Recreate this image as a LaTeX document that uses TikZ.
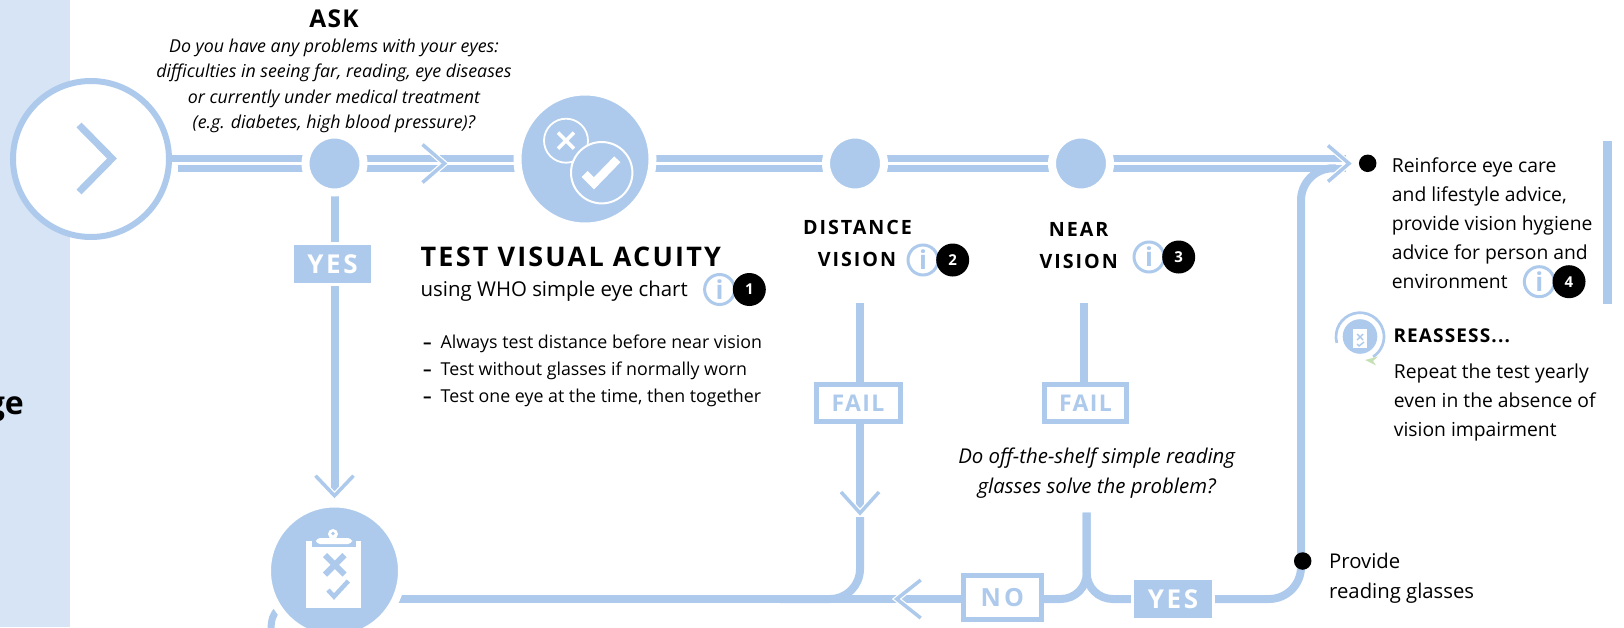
\documentclass[tikz,border=0pt]{standalone}
\usepackage{fontspec}
\setmainfont{Open Sans}
\usetikzlibrary{positioning,calc,backgrounds}
\definecolor{flowblue}{HTML}{ADCAEC}
\definecolor{bandblue}{HTML}{D6E4F5}
\definecolor{tipgreen}{HTML}{C5E0B4}
\tikzset{
    flowline/.style={draw=flowblue, line width=8pt},
    twinline/.style={draw=flowblue, line width=6.5pt, double=white, double distance=3.5pt},
    chevron/.style={draw=flowblue, line width=3.5pt, preaction={draw=white, line width=6pt}},
    bigdot/.style={circle, fill=flowblue, draw=white, line width=8pt, minimum size=58pt, inner sep=0pt, outer sep=0pt},
    bigicon/.style={circle, fill=flowblue, draw=white, line width=8pt, minimum size=135pt, inner sep=0pt, outer sep=0pt},
    solidbox/.style={rectangle, fill=flowblue, draw=white, line width=3pt, inner sep=0pt, text=white, font=\fontsize{26}{26}\selectfont\bfseries\addfontfeature{LetterSpace=10}},
    openbox/.style={rectangle, fill=white, draw=flowblue, line width=5pt, inner sep=0pt, text=flowblue, font=\fontsize{23}{23}\selectfont\bfseries\addfontfeature{LetterSpace=6}},
    infomark/.style={circle, fill=white, draw=flowblue, line width=3pt, minimum size=30pt, inner sep=0pt, text=flowblue, font=\fontsize{26}{26}\selectfont\bfseries},
    nummark/.style={circle, fill=black, minimum size=33pt, inner sep=0pt, text=white, font=\fontsize{15}{15}\selectfont\bfseries},
    blackdot/.style={circle, fill=black, minimum size=17.5pt, inner sep=0pt},
    headtext/.style={inner sep=0pt, anchor=base, font=\fontsize{19.7}{19.7}\selectfont\bfseries\addfontfeature{LetterSpace=10}},
    bodytext/.style={inner sep=0pt, anchor=base west, align=left, font=\fontsize{19.3}{29}\selectfont},
    listtext/.style={inner sep=0pt, anchor=base west, font=\fontsize{17.8}{17.8}\selectfont},
    asktext/.style={inner sep=0pt, anchor=base, font=\fontsize{17.8}{17.8}\selectfont\itshape},
}
\begin{document}
\begin{tikzpicture}[x=1pt, y=-1pt]
    \useasboundingbox (0,0) rectangle (1624,627);
    \clip (0,0) rectangle (1624,627);

    % stations on the main line
    \node[circle, fill=white, draw=flowblue, line width=6pt, minimum size=156pt, inner sep=0pt] (start) at (91,159) {};
    \node[bigdot] (ask) at (334.5,163.5) {};
    \node[bigicon] (eye) at (585,159) {};
    \node[bigdot] (dist) at (855,163.5) {};
    \node[bigdot] (near) at (1081,163.5) {};
    \node[bigicon] (clipb) at (334.5,571) {};

    % boxes on the branches
    \node[solidbox, minimum width=80pt, minimum height=41pt] (yesa) at (332.5,264) {YES};
    \node[openbox, minimum width=84pt, minimum height=37.5pt] (faild) at (858,402.8) {FAIL};
    \node[openbox, minimum width=82.6pt, minimum height=37.5pt] (failn) at (1085.5,402.8) {FAIL};
    \node[openbox, minimum width=78.3pt, minimum height=43.7pt, font=\fontsize{25}{25}\selectfont\bfseries\addfontfeature{LetterSpace=12}] (nobox) at (1002.3,597.5) {NO};
    \node[solidbox, minimum width=81pt, minimum height=41pt] (yesb) at (1173,599) {YES};

    % free ends and arrow points
    \coordinate (stubin) at (160,158.3);
    \coordinate (stubout) at (178,158.3);
    \coordinate (twinin) at (178,163.3);
    \coordinate (tipa) at (444.5,163.5);
    \coordinate (tipb) at (334.5,495.7);
    \coordinate (tipc) at (1349,163.5);
    \coordinate (tipd) at (860,513);
    \coordinate (tipe) at (896.7,599);
    \coordinate (distv) at (860,303);
    \coordinate (nearv) at (1084.4,303);
    \coordinate (distm) at (860,517);
    \coordinate (forkv) at (1086.7,512.7);
    \coordinate (merge) at (780,599);
    \coordinate (risea) at (1301,599);
    \coordinate (riseb) at (1301,168.3);
    \coordinate (risec) at (1336,168.3);

    \begin{scope}[on background layer]
        \fill[bandblue] (0,0) rectangle (70,627);
        \draw[draw=flowblue, line width=6.5pt] (stubin) -- (stubout);
        \draw[twinline] (twinin) -- (twinin -| ask);
        \draw[twinline] (ask) -- (ask -| eye);
        \draw[twinline] (ask -| eye) -- (dist);
        \draw[twinline] (dist) -- (near);
        \draw[twinline, shorten >=3pt] (near) -- (tipc);
        \draw[flowline] (ask) -- (yesa -| ask);
        \draw[flowline] (yesa -| ask) -- (tipb);
        \draw[flowline] (distv) -- (faild -| distv);
        \draw[flowline] (faild -| distv) -- (tipd);
        \draw[flowline] (nearv) -- (failn -| nearv);
        \draw[flowline, rounded corners=30pt] (distm) |- (merge);
        \draw[flowline] (tipe) -- (clipb |- tipe);
        \draw[flowline] (nobox |- tipe) -- (tipe);
        \draw[flowline, rounded corners=26pt] (forkv) |- (nobox |- tipe);
        \draw[flowline, rounded corners=26pt] (forkv) |- (yesb);
        \draw[flowline, rounded corners=32pt] (yesb) -- (risea) -- (riseb) -- (risec);
        \draw[line width=7pt, draw=flowblue] (278,609) .. controls (273,614) and (271,620) .. (271,630);
    \end{scope}

    % arrow heads
    \draw[draw=flowblue, line width=7pt] (79,125) -- (112,158.5) -- (79,192);
    \draw[chevron] ($(tipa)+(-22,-19)$) -- (tipa) -- ($(tipa)+(-22,19)$);
    \draw[chevron] ($(tipb)+(-19,-20)$) -- (tipb) -- ($(tipb)+(19,-20)$);
    \draw[chevron] ($(tipc)+(-21,-18)$) -- (tipc) -- ($(tipc)+(-21,18)$);
    \draw[chevron] ($(tipd)+(-19,-21)$) -- (tipd) -- ($(tipd)+(19,-21)$);
    \draw[chevron] ($(tipe)+(24,-19)$) -- (tipe) -- ($(tipe)+(24,19)$);

    % eye chart badge
    \draw[white, line width=1.8pt] (566,140.7) circle[radius=22pt];
    \draw[white, line width=3.5pt] (558,132.7) -- (574,148.7) (574,132.7) -- (558,148.7);
    \draw[white, fill=flowblue, line width=2pt] (601.7,172.7) circle[radius=30.7pt];
    \draw[white, line width=8.5pt] (584.7,174) -- (594,183.3) -- (617.3,159.3);

    % clipboard badge
    \fill[white] (306,541) rectangle (360.7,607.7);
    \fill[flowblue] (312,541) rectangle (356,546.7);
    \fill[white, rounded corners=4pt] (316,544) -- (316,538) -- (352,538) -- (352,544) -- cycle;
    \fill[white] (333,534) circle[radius=5pt];
    \fill[flowblue] (333,533.5) circle[radius=1.8pt];
    \draw[flowblue, line width=6pt] (325,555) -- (344.5,574.5) (344.5,555) -- (325,574.5);
    \draw[flowblue, line width=4.5pt] (328,590) -- (334,596.5) -- (348.3,581);

    % texts of the main line
    \node[headtext, font=\fontsize{24.5}{24.5}\selectfont\bfseries\addfontfeature{LetterSpace=5}] (asktitle) at (334,27) {ASK};
    \node[asktext] (askla) at (334,52) {Do you have any problems with your eyes:};
    \node[asktext] (asklb) at (334,77) {difficulties in seeing far, reading, eye diseases};
    \node[asktext] (asklc) at (334,103) {or currently under medical treatment};
    \node[asktext] (askld) at (334,128) {(e.g. diabetes, high blood pressure)?};

    \node[inner sep=0pt, anchor=base west, font=\fontsize{27}{27}\selectfont\bfseries\addfontfeature{LetterSpace=8}] (testhead) at (420.5,266.7) {TEST VISUAL ACUITY};
    \node[inner sep=0pt, anchor=base west, font=\fontsize{20.4}{20.4}\selectfont] (testsub) at (420.5,296) {using WHO simple eye chart};
    \node[infomark] (infoa) at (719.6,289.5) {i};
    \node[nummark, right=-3.5pt of infoa] (numa) {1};

    \node[listtext, font=\fontsize{17}{17}\selectfont\bfseries] (dasha) at (423,348) {--};
    \node[listtext] (lista) at (440.5,348) {Always test distance before near vision};
    \node[listtext, font=\fontsize{17}{17}\selectfont\bfseries] (dashb) at (423,375) {--};
    \node[listtext] (listb) at (440.5,375) {Test without glasses if normally worn};
    \node[listtext, font=\fontsize{17}{17}\selectfont\bfseries] (dashc) at (423,402.3) {--};
    \node[listtext] (listc) at (440.5,402.3) {Test one eye at the time, then together};

    \node[headtext] (distla) at (857.5,234.3) {DISTANCE};
    \node[headtext] (distlb) at (857,266.7) {VISION};
    \node[infomark] (infob) at (923,260) {i};
    \node[nummark, right=-3.5pt of infob] (numb) {2};

    \node[headtext] (nearla) at (1078.7,236) {NEAR};
    \node[headtext] (nearlb) at (1078.7,268) {VISION};
    \node[infomark] (infoc) at (1149,257) {i};
    \node[nummark, right=-3.5pt of infoc] (numc) {3};

    \node[inner sep=0pt, anchor=base, font=\fontsize{20.4}{20.4}\selectfont\itshape] (reada) at (1096.7,463.3) {Do off-the-shelf simple reading};
    \node[inner sep=0pt, anchor=base, font=\fontsize{20.4}{20.4}\selectfont\itshape] (readb) at (1096.7,493.3) {glasses solve the problem?};

    % right column
    \node[blackdot] (dota) at (1367.7,163.3) {};
    \node[bodytext] (advice) at (1391.7,288) {Reinforce eye care\\and lifestyle advice,\\provide vision hygiene\\advice for person and\\environment};
    \node[infomark] (infod) at (1539.3,281.7) {i};
    \node[nummark, right=-3.5pt of infod] (numd) {4};
    \fill[flowblue] (1603.3,141) rectangle (1612,304.3);

    \draw[flowblue, line width=2.7pt] (1336.8,342.9) arc[start angle=195, end angle=-57, radius=24pt];
    \fill[tipgreen] (1378,356.5) -- (1365,360) -- (1376,365.5) -- (1373,361) -- cycle;
    \fill[flowblue] (1360,336.5) circle[radius=17.3pt];
    \fill[white] (1353,329) rectangle (1367,348);
    \draw[flowblue, line width=1.4pt] (1357,334) -- (1363,340) (1363,334) -- (1357,340) (1357,344) -- (1359,346) -- (1364,342);
    \node[headtext, anchor=base west, font=\fontsize{19}{19}\selectfont\bfseries\addfontfeature{LetterSpace=6}] (reasshead) at (1393.3,342.7) {REASSESS...};
    \node[bodytext] (reasstext) at (1393.7,436.7) {Repeat the test yearly\\even in the absence of\\vision impairment};

    \node[blackdot] (dotb) at (1302.7,561) {};
    \node[bodytext, font=\fontsize{20.3}{30}\selectfont] (glasses) at (1329,598.6) {Provide\\reading glasses};

    \node[inner sep=0pt, anchor=base east, font=\fontsize{32}{32}\selectfont\bfseries] (bandtext) at (24,414) {ge};
\end{tikzpicture}
\end{document}
